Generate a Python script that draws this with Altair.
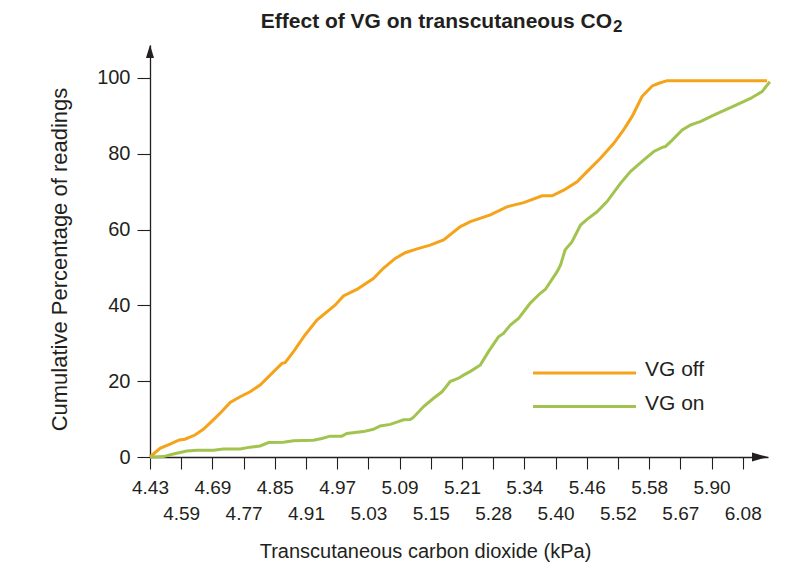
import altair as alt
import pandas as pd

title_main = "Effect of VG on transcutaneous CO"
title_sub = "2"
x_title = "Transcutaneous carbon dioxide (kPa)"
y_title = "Cumulative Percentage of readings"
tick_labels = ["4.43", "4.59", "4.69", "4.77", "4.85", "4.91", "4.97", "5.03", "5.09", "5.15",
               "5.21", "5.28", "5.34", "5.40", "5.46", "5.52", "5.58", "5.67", "5.90", "6.08"]
y_ticks = [0, 20, 40, 60, 80, 100]
series = ["VG off", "VG on"]
colors = ["#F5A31A", "#A2C44F"]

# positions along the (evenly spaced) kPa axis, in tick-index units
off_x = [0, 0.32, 0.64, 0.94, 1.12, 1.44, 1.71, 2.03, 2.30, 2.57, 2.89, 3.21, 3.53, 3.85, 4.23,
         4.33, 4.60, 4.97, 5.35, 5.67, 5.94, 6.20, 6.63, 7.16, 7.48, 7.86, 8.18, 8.56, 8.98, 9.41,
         9.95, 10.27, 10.91, 11.44, 11.98, 12.57, 12.89, 13.26, 13.69, 14.01, 14.44, 14.86, 15.18,
         15.45, 15.61, 15.77, 16.10, 16.31, 16.58, 19.78]
off_y = [0, 2.3, 3.4, 4.5, 4.7, 5.8, 7.3, 9.8, 12.0, 14.4, 15.9, 17.2, 19.0, 21.6, 24.7,
         24.9, 27.8, 32.2, 36.1, 38.3, 40.1, 42.5, 44.2, 47.1, 49.8, 52.4, 53.9, 54.9, 55.9, 57.3,
         60.8, 62.1, 63.9, 66.0, 67.1, 68.9, 68.9, 70.4, 72.6, 75.3, 78.8, 82.7, 86.3,
         89.8, 92.4, 95.1, 97.9, 98.6, 99.3, 99.3]
on_x = [0, 0.43, 0.75, 1.18, 1.50, 2.03, 2.35, 2.89, 3.21, 3.53, 3.80, 4.28, 4.60, 5.24, 5.51,
        5.77, 6.15, 6.31, 6.84, 7.16, 7.38, 7.70, 7.91, 8.13, 8.34, 8.45, 8.77, 9.09, 9.36, 9.62,
        9.89, 10.05, 10.27, 10.59, 10.85, 11.17, 11.33, 11.55, 11.82, 12.19, 12.51, 12.67, 13.05,
        13.16, 13.31, 13.53, 13.80, 14.01, 14.33, 14.65, 15.08, 15.40, 15.83, 16.15, 16.42, 16.52,
        16.74, 17.06, 17.33, 17.54, 17.64, 18.07, 18.71, 19.25, 19.62, 19.87]
on_y = [0, 0.1, 0.8, 1.6, 1.8, 1.8, 2.1, 2.1, 2.6, 2.9, 3.8, 3.9, 4.3, 4.4, 4.9,
        5.5, 5.5, 6.2, 6.7, 7.3, 8.2, 8.6, 9.2, 9.8, 9.9, 10.5, 13.3, 15.5, 17.2, 19.9,
        20.8, 21.6, 22.6, 24.3, 27.8, 31.7, 32.6, 34.8, 36.6, 40.6, 43.2, 44.2, 48.9,
        50.7, 54.7, 56.8, 61.2, 62.7, 64.7, 67.4, 72.2, 75.3, 78.4, 80.6, 81.7, 81.9,
        83.6, 86.3, 87.6, 88.2, 88.5, 90.2, 92.6, 94.6, 96.4, 99.0]

x_max = 19.81
y_max = 108.7
W, H = 618, 412
INK = "#231f20"
FONT = "Liberation Sans"

df = pd.concat([
    pd.DataFrame({"x": off_x, "y": off_y, "series": series[0], "i": range(len(off_x))}),
    pd.DataFrame({"x": on_x, "y": on_y, "series": series[1], "i": range(len(on_x))}),
])

lbl = "[" + ",".join(f"'{t}'" for t in tick_labels) + "]"
label_expr = f"datum.value % 2 == 0 ? {lbl}[datum.value] : ['', {lbl}[datum.value]]"

x_scale = alt.Scale(domain=[0, x_max], nice=False, zero=False)
y_scale = alt.Scale(domain=[0, y_max], nice=False, zero=False)

x_axis = alt.Axis(values=list(range(len(tick_labels))), labelExpr=label_expr, title=x_title,
                  grid=False, domainColor=INK, domainWidth=1.3, tickColor=INK, tickWidth=1.1,
                  tickSize=12, labelFont=FONT, labelFontSize=19, labelColor=INK, labelPadding=9,
                  labelBaseline="top", labelLineHeight=26, labelOverlap=False, labelFlush=False,
                  labelBound=False, titleFont=FONT, titleFontSize=20, titleFontWeight="normal",
                  titleColor=INK, titleX=275, titleY=100, titleBaseline="alphabetic",
                  titleAlign="center")
y_axis = alt.Axis(values=y_ticks, title=y_title, grid=False, domainColor=INK, domainWidth=1.3,
                  tickColor=INK, tickWidth=1.1, tickSize=13, labelFont=FONT, labelFontSize=20,
                  labelColor=INK, labelPadding=7, labelOverlap=False, labelFlush=False,
                  titleFont=FONT, titleFontSize=22, titleFontWeight="normal", titleColor=INK,
                  titleX=-84, titleY=214, titleBaseline="alphabetic", titleAlign="center")

X = alt.X("x:Q", scale=x_scale, axis=x_axis)
Y = alt.Y("y:Q", scale=y_scale, axis=y_axis)

lines = alt.Chart(df).mark_line(strokeWidth=3, clip=False).encode(
    x=X, y=Y,
    color=alt.Color("series:N", scale=alt.Scale(domain=series, range=colors), legend=None),
    order="i:Q",
)

one = pd.DataFrame({"a": [0]})
arrow_y = alt.Chart(pd.DataFrame({"x": [0], "y": [y_max]})).mark_point(
    shape="M0,0L-0.62,2L0.62,2Z", size=169, filled=True, color=INK, opacity=1, strokeWidth=0
).encode(x=X, y=Y)
arrow_x = alt.Chart(pd.DataFrame({"x": [x_max], "y": [0]})).mark_point(
    shape="M0,0L-2,-0.55L-2,0.55Z", size=256, filled=True, color=INK, opacity=1, strokeWidth=0
).encode(x=X, y=Y)

legend_layers = []
for k, (name, col) in enumerate(zip(series, colors)):
    ly = 328 + 33.5 * k
    legend_layers.append(alt.Chart(one).mark_rule(strokeWidth=3, color=col).encode(
        x=alt.value(383), x2=alt.value(486), y=alt.value(ly)))
    legend_layers.append(alt.Chart(one).mark_text(
        align="left", baseline="alphabetic", font=FONT, fontSize=21, color=INK
    ).encode(x=alt.value(495), y=alt.value(ly + 3), text=alt.value(name)))

t_main = alt.Chart(one).mark_text(
    align="right", baseline="alphabetic", font=FONT, fontSize=21, fontWeight="bold", color=INK
).encode(x=alt.value(462), y=alt.value(-17), text=alt.value(title_main))
t_sub = alt.Chart(one).mark_text(
    align="left", baseline="alphabetic", font=FONT, fontSize=17, fontWeight="bold", color=INK
).encode(x=alt.value(463), y=alt.value(-13), text=alt.value(title_sub))

chart = alt.layer(lines, arrow_y, arrow_x, t_main, t_sub, *legend_layers).properties(
    width=W, height=H,
    padding={"left": 142, "top": 37, "right": 30, "bottom": 106},
    autosize=alt.AutoSizeParams(type="none"),
    background="white",
).configure_view(stroke=None)

chart.save("out.html", embed_options={"renderer": "svg", "actions": False})
